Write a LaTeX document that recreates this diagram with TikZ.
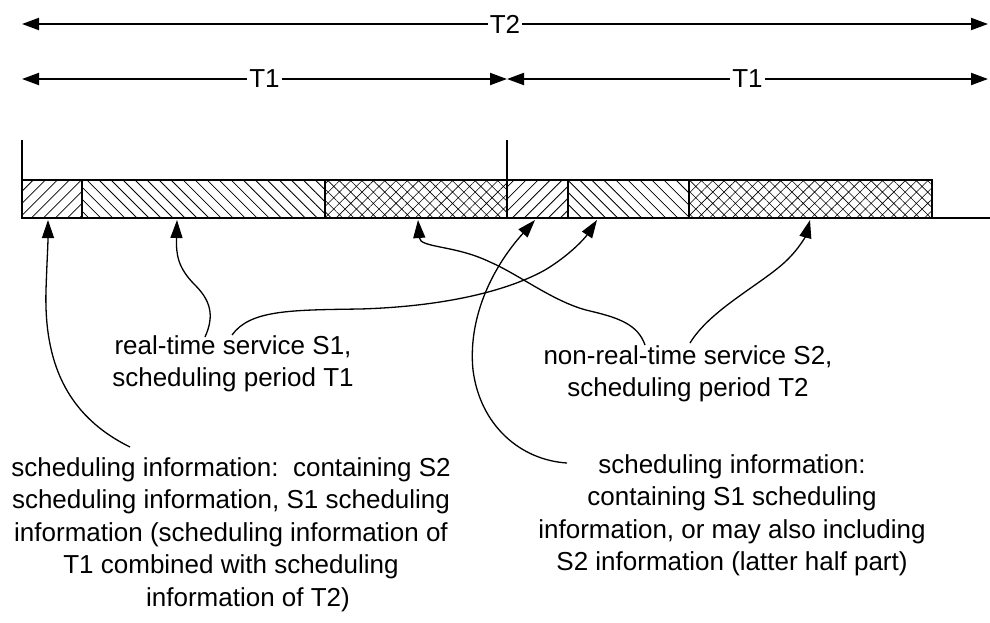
\documentclass[tikz,border=0pt]{standalone}
\usepackage{fontspec}
\setmainfont{Liberation Sans}
\usetikzlibrary{arrows.meta,patterns.meta}
\begin{document}
\begin{tikzpicture}[x=1pt,y=-1pt,
  dim/.style={line width=2pt,{Triangle[length=17pt,width=12pt]}-{Triangle[length=17pt,width=12pt]}},
  callout/.style={line width=1.3pt,-{Triangle[length=18pt,width=12pt]}},
  lbl/.style={font=\fontsize{26}{32.5}\selectfont,align=center,inner sep=0pt,anchor=base},
  dimlbl/.style={font=\fontsize{26}{32.5}\selectfont,fill=white,inner sep=2pt},
  segA/.style={draw,line width=1.5pt,pattern={Lines[angle=45,distance=8.5pt,line width=0.8pt]}},
  segB/.style={draw,line width=1.5pt,pattern={Lines[angle=-45,distance=8.5pt,line width=0.8pt]}},
  segC/.style={draw,line width=1.5pt,pattern={Hatch[angle=45,distance=8pt,line width=0.6pt]}},
  tick/.style={line width=1.5pt}
]
\useasboundingbox (0,0) rectangle (990,622);

% dimension arrows
\coordinate (t2l) at (22,24);
\coordinate (t2r) at (988,24);
\coordinate (t1a) at (22,79);
\coordinate (t1m) at (507,79);
\coordinate (t1b) at (988,79);
\draw[dim] (t2l) -- node[dimlbl]{T2} (t2r);
\draw[dim] (t1a) -- node[dimlbl]{T1} (t1m);
\draw[dim] (t1m) -- node[dimlbl]{T1} (t1b);

% bar
\path[segA] (22,180) rectangle (82,218);
\path[segB] (82,180) rectangle (325,218);
\path[segC] (325,180) rectangle (507,218);
\path[segA] (507,180) rectangle (568,218);
\path[segB] (568,180) rectangle (689,218);
\path[segC] (689,180) rectangle (932,218);
\draw[line width=2pt] (22,218) -- (990,218);
\draw[tick] (22,140) -- (22,218);
\draw[tick] (507,140) -- (507,218);

% labels (anchor = baseline of the last line)
\node[lbl] (s1) at (233,386.5) {real-time service S1,\\scheduling period T1};
\node[lbl] (s2) at (688,396.5) {non-real-time service S2,\\scheduling period T2};
\node[lbl] (bl) at (231,606) {scheduling information:\ \ containing S2\\scheduling information, S1 scheduling\\information (scheduling information of\\T1 combined with scheduling\\\hspace*{34pt}information of T2)};
\node[lbl] (br) at (732,570.5) {scheduling information:\\containing S1 scheduling\\information, or may also including\\S2 information (latter half part)};

% connector ends
\coordinate (p1) at (48,220);
\coordinate (p2) at (177,220);
\coordinate (p3) at (418,220);
\coordinate (p4) at (535,220);
\coordinate (p5) at (597,220);
\coordinate (p6) at (810,220);
\coordinate (q1) at (130,447);
\coordinate (q2) at (205,337);
\coordinate (q3) at (645,345);
\coordinate (q4) at (232,335);
\coordinate (q5) at (567,463);
\coordinate (q6) at (690,343);

\draw[callout] (q1) .. controls (65,415) and (44,360) .. (46,290) .. controls (47,260) and (48,245) .. (p1);
\draw[callout] (q2) .. controls (215,315) and (210,300) .. (195,285) .. controls (178,268) and (176,255) .. (p2);
\draw[callout] (q3) .. controls (638,325) and (620,318) .. (590,311) .. controls (555,303) and (520,275) .. (490,262) .. controls (455,245) and (420,248) .. (p3);
\draw[callout] (q4) .. controls (250,310) and (290,310) .. (360,309) .. controls (430,307) and (500,295) .. (545,270) .. controls (570,255) and (585,238) .. (p5);
\draw[callout] (q5) .. controls (520,460) and (480,425) .. (473,370) .. controls (468,320) and (490,270) .. (p4);
\draw[callout] (q6) .. controls (710,310) and (760,285) .. (785,262) .. controls (800,248) and (806,235) .. (p6);
\end{tikzpicture}
\end{document}
